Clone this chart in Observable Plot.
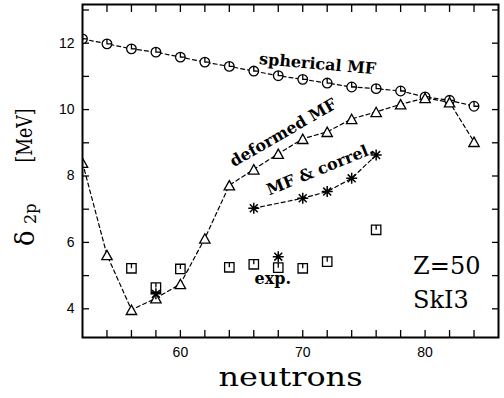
<!DOCTYPE html>
<html><head><meta charset="utf-8">
<script src="https://cdn.jsdelivr.net/npm/d3@7"></script>
<script src="https://cdn.jsdelivr.net/npm/@observablehq/plot@0.6"></script>
<style>body{margin:0;background:#fff}svg{display:block}</style>
</head><body><div id="chart"></div>
<script>
// neutron numbers and delta_2p values (MeV)
const sphN = [52,54,56,58,60,62,64,66,68,70,72,74,76,78,80,82,84];
const sphE = [12.13,11.98,11.83,11.73,11.58,11.43,11.30,11.16,11.02,10.91,10.80,10.68,10.63,10.56,10.38,10.28,10.10];
const defN = [52,54,56,58,60,62,64,66,68,70,72,74,76,78,80,82,84];
const defE = [8.40,5.62,3.97,4.32,4.75,6.12,7.72,8.20,8.67,9.12,9.33,9.72,9.93,10.16,10.35,10.22,9.03];
const corN = [66,70,72,74,76];
const corE = [7.03,7.33,7.53,7.93,8.63];
const corSingleN = [58,68];
const corSingleE = [4.45,5.57];
const expN = [56,58,60,64,66,68,70,72,76];
const expE = [5.22,4.64,5.20,5.25,5.34,5.24,5.22,5.42,6.38];

const xMinor = [54,56,58,60,62,64,66,68,70,72,74,76,78,80,82,84];
const xMajor = [60,70,80];
const yMinor = [4,5,6,7,8,9,10,11,12,13];
const yMajor = [4,6,8,10,12];

const notes = [
  {text: "spherical MF", n: 71.22, e: 11.37, angle: 5},
  {text: "deformed MF", n: 68.41, e: 9.30, angle: -30},
  {text: "MF & correl.", n: 71.42, e: 8.20, angle: -22},
  {text: "exp.", n: 67.55, e: 4.89, angle: 0}
];
const tags = [
  {text: "Z=50", n: 79.02, e: 5.28},
  {text: "SkI3", n: 79.02, e: 4.26}
];
// y-axis title pieces, anchored (baseline) left of the frame
const yTitle = [
  {text: "[MeV]", size: 22, n: 47.84, e: 9.22, angle: -90},
  {text: "δ", size: 26, n: 48.0, e: 6.13, angle: -90},
  {text: "2p", size: 16, n: 48.24, e: 6.86, angle: -90}
];

const rows = (N, E) => N.map((n, i) => ({n, e: E[i]}));
const sph = rows(sphN, sphE), def = rows(defN, defE), cor = rows(corN, corE),
      corS = rows(corSingleN, corSingleE), exp = rows(expN, expE);

const rad = s => Math.sqrt(s / Math.PI);
const clockSym = {draw(c, s) { const r = rad(s); c.moveTo(r, 0); c.arc(0, 0, r, 0, 2 * Math.PI); c.moveTo(0, -r); c.lineTo(0, 0); c.lineTo(r, 0); }};
const boxSym = {draw(c, s) { const h = rad(s); c.rect(-h, -h, 2 * h, 2 * h); c.moveTo(0, -h); c.lineTo(0, 0); }};
const triSym = {draw(c, s) { const r = rad(s); const h = r * 0.9; c.moveTo(0, -h); c.lineTo(r, h); c.lineTo(-r, h); c.closePath(); }};
const starSym = {draw(c, s) { const r = rad(s); const d = r * 0.72;
  c.moveTo(-r, 0); c.lineTo(r, 0); c.moveTo(0, -r); c.lineTo(0, r);
  c.moveTo(-d, -d); c.lineTo(d, d); c.moveTo(-d, d); c.lineTo(d, -d); }};

const serif = "DejaVu Serif";
const sans = "Liberation Sans";
const dash = {stroke: "black", strokeWidth: 1.2, strokeDasharray: "4,3", clip: true};
const mk = {stroke: "black", fill: "white", strokeWidth: 1.3, clip: true};

const chart = Plot.plot({
  width: 504, height: 398,
  marginLeft: 82, marginRight: 6, marginTop: 4, marginBottom: 61,
  style: {background: "white", color: "black"},
  x: {domain: [52, 86], axis: null},
  y: {domain: [3.136, 13.165], axis: null},
  marks: [
    Plot.axisX(xMinor, {anchor: "bottom", tickSize: -7, tickFormat: () => "", label: null, strokeWidth: 1.3}),
    Plot.axisX(xMinor, {anchor: "top", tickSize: -7, tickFormat: () => "", label: null, strokeWidth: 1.3}),
    Plot.axisY(yMinor, {anchor: "left", tickSize: -7, tickFormat: () => "", label: null, strokeWidth: 1.3}),
    Plot.axisY(yMinor, {anchor: "right", tickSize: -7, tickFormat: () => "", label: null, strokeWidth: 1.3}),
    Plot.axisX(xMajor, {anchor: "bottom", tickSize: 0, tickPadding: 10, label: null, fontSize: 14, fontFamily: sans}),
    Plot.axisY(yMajor, {anchor: "left", tickSize: 0, tickPadding: 8, label: null, fontSize: 14, fontFamily: sans}),
    Plot.line(sph, {x: "n", y: "e", ...dash}),
    Plot.line(def, {x: "n", y: "e", ...dash}),
    Plot.line(cor, {x: "n", y: "e", ...dash}),
    Plot.dot(sph, {x: "n", y: "e", symbol: clockSym, r: 4.8, ...mk}),
    Plot.dot(def, {x: "n", y: "e", symbol: triSym, r: 5.2, ...mk}),
    Plot.dot(exp, {x: "n", y: "e", symbol: boxSym, r: 4.7, ...mk}),
    Plot.dot(cor, {x: "n", y: "e", symbol: starSym, r: 5.5, stroke: "black", strokeWidth: 1.5}),
    Plot.dot(corS, {x: "n", y: "e", symbol: starSym, r: 5.5, stroke: "black", strokeWidth: 1.5}),
    Plot.text(notes, {x: "n", y: "e", text: "text", rotate: "angle", fontFamily: serif, fontWeight: "bold", fontSize: 16, fill: "black"}),
    Plot.text(tags, {x: "n", y: "e", text: "text", textAnchor: "start", fontFamily: serif, fontSize: 24, fill: "black"}),
    Plot.text(["neutrons"], {text: d => d, frameAnchor: "bottom", dy: 48, fontFamily: serif, fontSize: 26, fill: "black"}),
    ...yTitle.map(t => Plot.text([t], {x: "n", y: "e", text: "text", rotate: "angle", lineAnchor: "bottom", fontFamily: serif, fontSize: t.size, fill: "black"})),
    Plot.frame({stroke: "black", strokeWidth: 2})
  ]
});
document.getElementById("chart").appendChild(chart);
d3.select(chart).selectAll("text").filter(function() { return this.textContent === "neutrons"; })
  .attr("textLength", 144).attr("lengthAdjust", "spacingAndGlyphs");
d3.select(chart).selectAll("text").filter(function() { return this.textContent === "[MeV]"; })
  .attr("textLength", 54).attr("lengthAdjust", "spacingAndGlyphs");
</script>
</body></html>
